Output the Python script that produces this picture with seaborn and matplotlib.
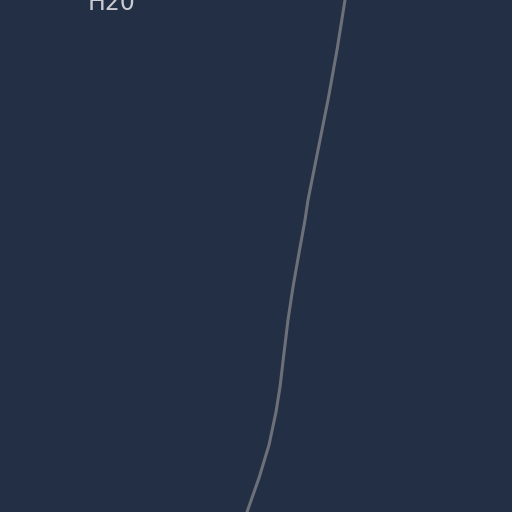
import matplotlib
matplotlib.use("Agg")
import matplotlib.pyplot as plt
import seaborn as sns

# values (pixel space of the visible crop)
curve_y = [0, 50, 100, 150, 200, 220, 253, 287, 320, 353, 387, 412, 445, 478, 512]
curve_x = [345, 337, 328, 318, 308, 305, 299, 293, 288, 284, 280, 276, 269, 259, 247]
label_text = "H20"
label_x = 88
label_y = 10

bg = "#232f45"

sns.set_theme(style="dark")
fig = plt.figure(figsize=(5.12, 5.12), dpi=100, facecolor=bg)
ax = fig.add_axes([0, 0, 1, 1])
ax.set_facecolor(bg)

sns.lineplot(x=curve_x, y=curve_y, sort=False, color="#6c7079",
             linewidth=2.2, ax=ax)

ax.text(label_x, label_y, label_text, color="#c9cbd0", fontsize=17,
        family="DejaVu Sans", ha="left", va="baseline")

ax.set_xlim(0, 512)
ax.set_ylim(512, 0)
ax.set_axis_off()

fig.savefig("out.png", dpi=100, facecolor=bg)
